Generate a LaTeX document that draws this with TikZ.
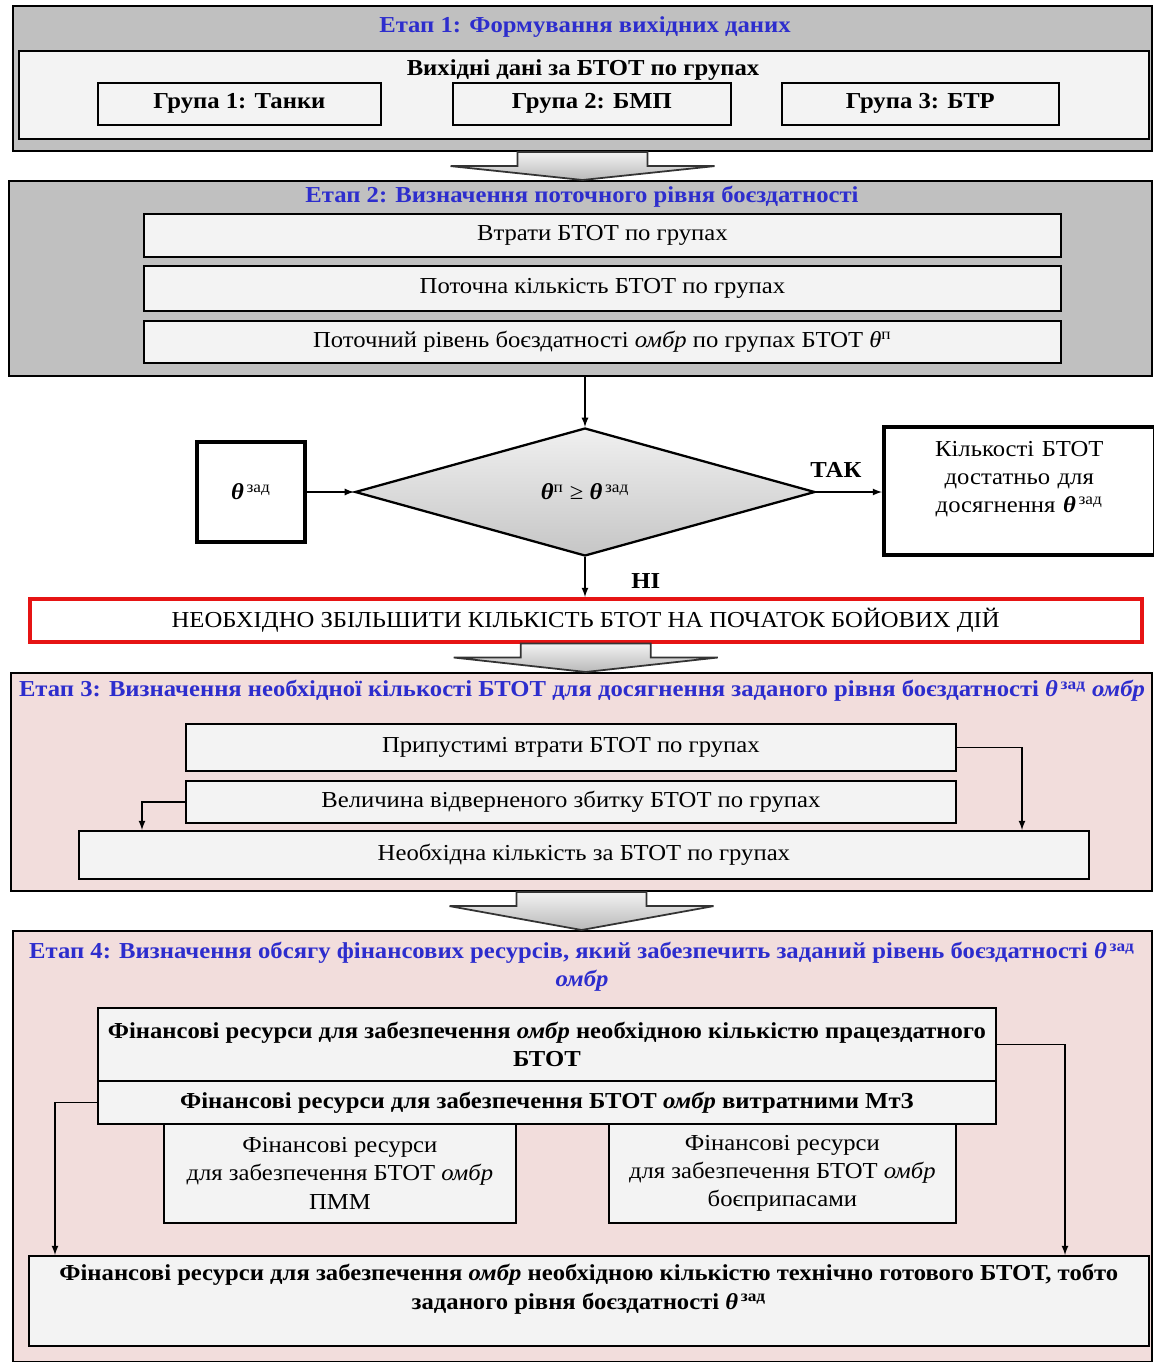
\documentclass[tikz,border=0pt]{standalone}
\usepackage{fontspec}
\setmainfont{Liberation Serif}[FakeStretch=1.08]
\usetikzlibrary{positioning,calc,shapes.geometric}

\newlength\pxu
\setlength\pxu{0.02cm}
\definecolor{stagegray}{RGB}{192,192,192}
\definecolor{stagepink}{RGB}{242,221,220}
\definecolor{itemfill}{RGB}{243,243,243}
\definecolor{titleblue}{RGB}{45,45,205}
\definecolor{alertred}{RGB}{230,20,20}

\newcommand\basefont{\fontsize{13}{16}\selectfont}
\newcommand\thz{\textbf{\textit{θ}}\textsuperscript{\,зад}}
\newcommand\stagearrow[2]{%
  \draw[bigarrow] ($(#1.south)+(-65,0)$) -- ($(#1.south)+(65,0)$)
    -- ($(#1.south)+(65,14)$) -- ($(#1.south)+(132,14)$)
    -- (#1.south |- #2.north) -- ($(#1.south)+(-132,14)$)
    -- ($(#1.south)+(-65,14)$) -- cycle;}

\tikzset{
  stage/.style={draw, line width=1.2pt, fill=stagegray, anchor=north west, inner sep=0pt},
  pinkstage/.style={stage, fill=stagepink},
  item/.style={draw, line width=1pt, fill=itemfill, anchor=north west, inner sep=2pt, align=center},
  bolditem/.style={item, font=\basefont\bfseries},
  thickbox/.style={draw, line width=2pt, fill=white, anchor=north west, align=center},
  title/.style={font=\basefont\bfseries\color{titleblue}, inner sep=1pt},
  flow/.style={-latex, line width=0.8pt},
  bigarrow/.style={draw=black!80, line width=1pt, top color=gray!10, bottom color=gray!55},
  decision/.style={diamond, draw, line width=1.3pt, top color=gray!12, bottom color=gray!45,
    inner sep=0pt, minimum width=460\pxu, minimum height=128\pxu},
  answer/.style={font=\basefont\bfseries, inner sep=1pt}
}

\begin{document}
\begin{tikzpicture}[x=0.02cm, y=-0.02cm, font=\basefont]
\useasboundingbox (0,0) rectangle (1153,1362);

% Etap 1
\node[stage, minimum width=1139\pxu, minimum height=145\pxu] (s1) at (12,5) {};
\node[title] (t1) at (585,27) {Етап 1: Формування вихідних даних};
\node[item, minimum width=1130\pxu, minimum height=88\pxu] (vd) at (18,50) {};
\node[font=\basefont\bfseries, inner sep=1pt] (vdt) at (583,70) {Вихідні дані за БТОТ по групах};
\node[bolditem, minimum width=283\pxu, minimum height=42\pxu] (g1) at (97,82) {Група 1: Танки};
\node[bolditem, minimum width=278\pxu, minimum height=42\pxu] (g2) at (452,82) {Група 2: БМП};
\node[bolditem, minimum width=277\pxu, minimum height=42\pxu] (g3) at (781,82) {Група 3: БТР};

% Etap 2
\node[stage, minimum width=1143\pxu, minimum height=195\pxu] (s2) at (8,180) {};
\node[title] (t2) at (582,197) {Етап 2: Визначення поточного рівня боєздатності};
\node[item, minimum width=917\pxu, minimum height=43\pxu] (vt) at (143,213) {Втрати БТОТ по групах};
\node[item, minimum width=917\pxu, minimum height=45\pxu] (pk) at (143,265) {Поточна кількість БТОТ по групах};
\node[item, minimum width=917\pxu, minimum height=42\pxu] (pr2) at (143,320)
  {Поточний рівень боєздатності \textit{омбр} по групах БТОТ \textit{θ}\textsuperscript{п}};
\stagearrow{s1}{s2}

% perevirka
\node[decision] (dia) at (585,492) {\textbf{\textit{θ}}\textsuperscript{п} ≥ \thz};
\node[thickbox, anchor=center, minimum width=108\pxu, minimum height=100\pxu] (tz) at (251,492) {\thz};
\node[thickbox, minimum width=271\pxu, minimum height=128\pxu, text width=240\pxu] (ok) at (882,425)
  {Кількості БТОТ\\ достатньо для\\ досягнення \thz\\ ~};
\draw[flow] (dia.north |- s2.south) -- (dia.north);
\draw[flow] (tz.east) -- (dia.west);
\draw[flow] (dia.east) -- node[answer, above=7pt, pos=0.3] {ТАК} (ok.west |- dia.east);
\node[draw=alertred, line width=2pt, fill=white, anchor=north west, minimum width=1112\pxu,
  minimum height=43\pxu] (rb) at (28,597) {НЕОБХІДНО ЗБІЛЬШИТИ КІЛЬКІСТЬ БТОТ НА ПОЧАТОК БОЙОВИХ ДІЙ};
\draw[flow] (dia.south) -- node[answer, right=25pt, pos=0.6] {НІ} (dia.south |- rb.north);

% Etap 3
\node[pinkstage, minimum width=1141\pxu, minimum height=218\pxu] (s3) at (10,672) {};
\node[title] (t3) at (582,691) {Етап 3: Визначення необхідної кількості БТОТ для досягнення заданого рівня боєздатності \thz\ \textit{омбр}};
\node[item, minimum width=770\pxu, minimum height=47\pxu] (pv) at (185,723) {Припустимі втрати БТОТ по групах};
\node[item, minimum width=770\pxu, minimum height=42\pxu] (vz) at (185,780) {Величина відверненого збитку БТОТ по групах};
\node[item, minimum width=1010\pxu, minimum height=48\pxu] (nk) at (78,830) {Необхідна кількість за БТОТ по групах};
\coordinate (c3r) at (1022,750);
\coordinate (c3l) at (142,795);
\draw[flow] (pv.east) -| (c3r |- nk.north);
\draw[flow] (vz.west) -| (c3l |- nk.north);
\stagearrow{rb}{s3}

% Etap 4
\node[pinkstage, minimum width=1139\pxu, minimum height=431\pxu] (s4) at (12,930) {};
\node[title, align=center] (t4) at (582,967) {Етап 4: Визначення обсягу фінансових ресурсів, який забезпечить заданий рівень боєздатності \thz\\ \textit{омбр}};
\node[bolditem, minimum width=898\pxu, minimum height=73\pxu] (fa) at (97,1007)
  {Фінансові ресурси для забезпечення \textit{омбр} необхідною кількістю працездатного\\ БТОТ};
\node[bolditem, minimum width=898\pxu, minimum height=43\pxu] (fb) at (97,1080)
  {Фінансові ресурси для забезпечення БТОТ \textit{омбр} витратними МтЗ};
\node[item, minimum width=352\pxu, minimum height=99\pxu] (pmm) at (163,1123)
  {Фінансові ресурси\\ для забезпечення БТОТ \textit{омбр}\\ ПММ};
\node[item, minimum width=347\pxu, minimum height=99\pxu] (bp) at (608,1123)
  {Фінансові ресурси\\ для забезпечення БТОТ \textit{омбр}\\ боєприпасами};
\node[bolditem, minimum width=1120\pxu, minimum height=90\pxu] (ff) at (28,1255)
  {Фінансові ресурси для забезпечення \textit{омбр} необхідною кількістю технічно готового БТОТ, тобто\\ заданого рівня боєздатності \thz\\ ~};
\coordinate (c4r) at (1065,1035);
\coordinate (c4l) at (55,1102);
\draw[flow] (fa.east) -| (c4r |- ff.north);
\draw[flow] (fb.west) -| (c4l |- ff.north);
\stagearrow{s3}{s4}
\end{tikzpicture}
\end{document}
